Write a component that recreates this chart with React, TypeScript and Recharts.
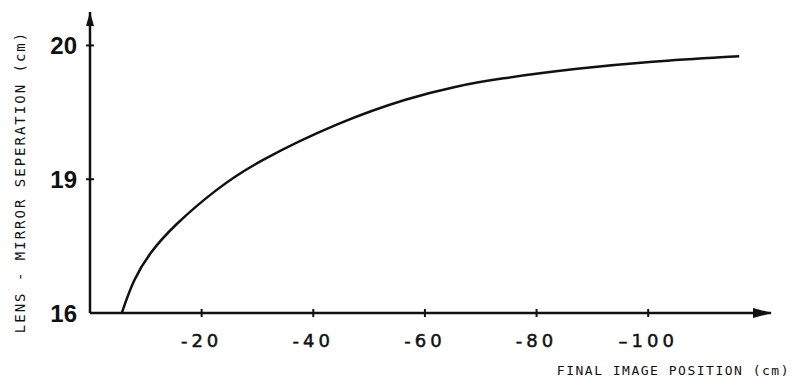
import { LineChart, Line, XAxis, YAxis, ReferenceDot } from 'recharts';

// final image position (cm) and lens-mirror separation (cm)
const imagePositions = [-5.7, -7.75, -10.7, -14.9, -22.7, -29.8, -44.7, -57.2, -65.6, -72.8, -87.7, -100.2, -116.3];
const separations = [18.0, 18.25, 18.45, 18.65, 18.93, 19.13, 19.43, 19.61, 19.695, 19.75, 19.83, 19.88, 19.92];

const xTicks = [-20, -40, -60, -80, -100];
const xTickLabels = ['-20', '-40', '-60', '-80', '–100'];
const yTicks = [18, 19, 20];
const yTickLabels = ['16', '19', '20'];

const xMin = -122;
const yMin = 18;
const yMax = 20.25;

const data = imagePositions.map((pos, i) => ({ pos, sep: separations[i] }));

const ink = '#111';
const titleFont = "'DejaVu Sans Mono', monospace";

const XTick = ({ x, y, payload }: any) => {
  const i = xTicks.indexOf(payload.value);
  return (
    <g>
      <line x1={x} x2={x} y1={y - 4} y2={y + 4} stroke={ink} strokeWidth={2} />
      <text
        x={x}
        y={y + 34}
        textAnchor="middle"
        fill={ink}
        stroke={ink}
        strokeWidth={0.5}
        fontSize={18}
        letterSpacing={4}
        fontFamily="'DejaVu Sans', sans-serif"
      >
        {xTickLabels[i]}
      </text>
    </g>
  );
};

const YTick = ({ x, y, payload }: any) => {
  const i = yTicks.indexOf(payload.value);
  return (
    <g>
      {i > 0 && <line x1={x - 4} x2={x + 4} y1={y} y2={y} stroke={ink} strokeWidth={2} />}
      <text
        x={x - 13}
        y={y + 9}
        textAnchor="end"
        fill={ink}
        fontSize={24}
        fontWeight="bold"
        fontFamily="'Liberation Sans', Arial, sans-serif"
      >
        {yTickLabels[i]}
      </text>
    </g>
  );
};

const RightArrow = ({ cx, cy }: any) => (
  <polygon points={`${cx + 1},${cy} ${cx - 18},${cy - 5} ${cx - 18},${cy + 5}`} fill={ink} />
);

const UpArrow = ({ cx, cy }: any) => (
  <polygon points={`${cx},${cy} ${cx - 4},${cy + 14} ${cx + 4},${cy + 14}`} fill={ink} />
);

export default function App() {
  return (
    <div style={{ position: 'absolute', left: 0, top: 0, width: 802, height: 382, background: '#fff' }}>
      <LineChart width={802} height={382} data={data} margin={{ top: 12, right: 31, left: 30, bottom: 29 }}>
        <XAxis
          type="number"
          dataKey="pos"
          reversed
          domain={[xMin, 0]}
          ticks={xTicks}
          tickSize={0}
          tickMargin={0}
          tick={<XTick />}
          height={40}
          axisLine={{ stroke: ink, strokeWidth: 2.5 }}
          tickLine={false}
          label={{
            content: ({ viewBox }: any) => (
              <text
                x={viewBox.x + viewBox.width + 19}
                y={viewBox.y + 62}
                textAnchor="end"
                fill={ink}
                fontSize={13}
                letterSpacing={1.5}
                fontFamily={titleFont}
              >
                FINAL IMAGE POSITION (cm)
              </text>
            ),
          }}
        />
        <YAxis
          type="number"
          dataKey="sep"
          domain={[yMin, yMax]}
          ticks={yTicks}
          tickSize={0}
          tickMargin={0}
          tick={<YTick />}
          width={60}
          axisLine={{ stroke: ink, strokeWidth: 2.5 }}
          tickLine={false}
          allowDataOverflow
          label={{
            content: ({ viewBox }: any) => {
              const cx = viewBox.x - 10;
              const cy = 182;
              return (
                <text
                  x={cx}
                  y={cy}
                  transform={`rotate(-90 ${cx} ${cy})`}
                  textAnchor="middle"
                  dominantBaseline="central"
                  fill={ink}
                  fontSize={14}
                  letterSpacing={2}
                  fontFamily={titleFont}
                >
                  LENS - MIRROR SEPERATION (cm)
                </text>
              );
            },
          }}
        />
        <Line
          type="basis"
          dataKey="sep"
          stroke={ink}
          strokeWidth={2.5}
          dot={false}
          isAnimationActive={false}
        />
        <ReferenceDot x={xMin} y={yMin} ifOverflow="visible" shape={<RightArrow />} />
        <ReferenceDot x={0} y={yMax} ifOverflow="visible" shape={<UpArrow />} />
      </LineChart>
    </div>
  );
}
